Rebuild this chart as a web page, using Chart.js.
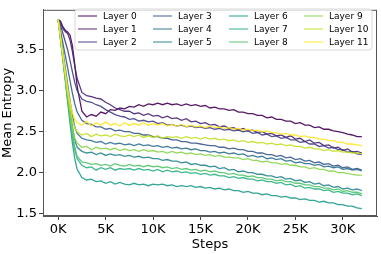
<!DOCTYPE html>
<html><head><meta charset="utf-8">
<script src="https://cdn.jsdelivr.net/npm/chart.js@4"></script>
<style>html,body{margin:0;padding:0;background:#fff}#wrap{width:381px;height:254px}</style>
</head><body><div id="wrap"><canvas id="c" width="381" height="254"></canvas></div>
<script>
const steps = [0,250,500,750,1000,1250,1500,1750,2000,
  2500,3000,3500,4000,4500,5000,5500,6000,6500,7000,
  7500,8000,8500,9000,9500,10000,10500,11000,11500,12000,
  12500,13000,13500,14000,14500,15000,15500,16000,16500,17000,
  17500,18000,18500,19000,19500,20000,20500,21000,21500,22000,
  22500,23000,23500,24000,24500,25000,25500,26000,26500,27000,
  27500,28000,28500,29000,29500,30000,30500,31000,31500,32000];
const layerNames = ["Layer 0","Layer 1","Layer 2","Layer 3","Layer 4","Layer 5","Layer 6","Layer 7","Layer 8","Layer 9","Layer 10","Layer 11"];
const layerColors = ["#440154","#482173","#433E85","#38598C","#2D708E","#25858E","#1E9B8A","#2BB07F","#51C56A","#85D54A","#C2DF23","#FDE725"];
const layer0 = [3.87,3.85,3.78,3.74,3.72,3.68,3.55,3.32,3.05,
  2.75,2.68,2.71,2.69,2.74,2.72,2.77,2.76,2.79,2.78,
  2.81,2.8,2.83,2.81,2.84,2.83,2.85,2.83,2.85,2.83,
  2.84,2.82,2.84,2.82,2.83,2.81,2.82,2.79,2.8,2.78,
  2.78,2.76,2.77,2.74,2.74,2.72,2.72,2.7,2.7,2.67,
  2.68,2.65,2.65,2.63,2.63,2.6,2.61,2.58,2.58,2.55,
  2.56,2.53,2.53,2.51,2.5,2.49,2.47,2.46,2.44,2.44];
const layer1 = [3.87,3.83,3.76,3.72,3.7,3.62,3.48,3.3,3.15,
  2.98,2.94,2.93,2.91,2.9,2.86,2.83,2.79,2.77,2.75,
  2.75,2.72,2.73,2.7,2.72,2.69,2.7,2.67,2.69,2.66,
  2.67,2.64,2.66,2.62,2.63,2.6,2.61,2.58,2.59,2.56,
  2.57,2.54,2.55,2.52,2.54,2.51,2.52,2.49,2.5,2.47,
  2.48,2.45,2.46,2.43,2.45,2.41,2.42,2.38,2.4,2.36,
  2.37,2.33,2.34,2.3,2.31,2.27,2.29,2.25,2.26,2.24];
const layer2 = [3.87,3.8,3.7,3.6,3.5,3.37,3.23,3.1,3.0,
  2.9,2.87,2.86,2.83,2.81,2.77,2.74,2.71,2.69,2.68,
  2.65,2.66,2.63,2.64,2.62,2.63,2.6,2.61,2.58,2.59,
  2.57,2.58,2.56,2.57,2.55,2.56,2.54,2.55,2.53,2.54,
  2.52,2.53,2.51,2.52,2.5,2.51,2.48,2.49,2.46,2.47,
  2.44,2.45,2.42,2.43,2.4,2.4,2.37,2.38,2.35,2.35,
  2.32,2.33,2.3,2.31,2.28,2.28,2.25,2.26,2.23,2.22];
const layer3 = [3.87,3.73,3.58,3.43,3.28,3.12,2.97,2.84,2.74,
  2.64,2.6,2.59,2.56,2.56,2.53,2.54,2.51,2.52,2.5,
  2.5,2.48,2.48,2.46,2.46,2.44,2.44,2.42,2.42,2.4,
  2.4,2.38,2.38,2.36,2.36,2.35,2.34,2.33,2.33,2.31,
  2.31,2.29,2.3,2.28,2.28,2.26,2.26,2.24,2.24,2.22,
  2.22,2.2,2.21,2.18,2.19,2.16,2.17,2.14,2.15,2.12,
  2.13,2.1,2.11,2.08,2.09,2.06,2.07,2.04,2.05,2.03];
const layer4 = [3.87,3.68,3.48,3.28,3.08,2.88,2.7,2.56,2.48,
  2.42,2.4,2.39,2.37,2.38,2.35,2.37,2.35,2.36,2.34,
  2.35,2.33,2.35,2.33,2.34,2.32,2.33,2.31,2.32,2.3,
  2.31,2.29,2.3,2.28,2.29,2.27,2.27,2.25,2.26,2.24,
  2.25,2.23,2.24,2.22,2.23,2.2,2.21,2.19,2.2,2.17,
  2.18,2.16,2.17,2.14,2.15,2.12,2.13,2.11,2.11,2.09,
  2.1,2.07,2.08,2.06,2.07,2.04,2.05,2.03,2.04,2.02];
const layer5 = [3.87,3.65,3.42,3.2,2.98,2.76,2.56,2.4,2.31,
  2.26,2.24,2.25,2.22,2.24,2.21,2.23,2.21,2.22,2.2,
  2.21,2.19,2.2,2.18,2.19,2.17,2.17,2.15,2.16,2.14,
  2.14,2.12,2.13,2.1,2.11,2.09,2.09,2.07,2.08,2.05,
  2.06,2.03,2.04,2.01,2.02,2.0,2.0,1.98,1.98,1.96,
  1.96,1.94,1.95,1.92,1.93,1.9,1.91,1.88,1.89,1.86,
  1.87,1.84,1.85,1.82,1.83,1.8,1.81,1.79,1.8,1.78];
const layer6 = [3.87,3.62,3.37,3.12,2.86,2.6,2.36,2.17,2.04,
  1.94,1.91,1.92,1.89,1.9,1.87,1.89,1.86,1.88,1.86,
  1.85,1.87,1.85,1.86,1.84,1.86,1.85,1.86,1.84,1.85,
  1.83,1.84,1.83,1.84,1.82,1.83,1.81,1.82,1.8,1.81,
  1.79,1.8,1.78,1.78,1.76,1.77,1.75,1.75,1.73,1.74,
  1.72,1.72,1.7,1.71,1.69,1.69,1.67,1.68,1.66,1.66,
  1.64,1.65,1.63,1.63,1.61,1.61,1.59,1.59,1.57,1.56];
const layer7 = [3.87,3.63,3.39,3.15,2.9,2.67,2.45,2.28,2.17,
  2.09,2.06,2.07,2.03,2.06,2.04,2.06,2.03,2.05,2.04,
  2.05,2.03,2.05,2.03,2.04,2.02,2.04,2.01,2.03,2.01,
  2.02,2.0,2.01,1.99,2.0,1.98,1.99,1.97,1.98,1.96,
  1.96,1.94,1.95,1.93,1.94,1.92,1.92,1.9,1.91,1.89,
  1.89,1.87,1.88,1.85,1.86,1.83,1.84,1.81,1.82,1.8,
  1.8,1.78,1.79,1.76,1.77,1.75,1.75,1.73,1.74,1.72];
const layer8 = [3.87,3.63,3.39,3.15,2.91,2.68,2.47,2.31,2.2,
  2.13,2.12,2.1,2.11,2.09,2.1,2.08,2.11,2.09,2.08,
  2.1,2.08,2.09,2.07,2.09,2.07,2.08,2.06,2.07,2.05,
  2.06,2.04,2.05,2.03,2.04,2.02,2.03,2.01,2.02,2.0,
  2.0,1.98,1.99,1.97,1.97,1.95,1.96,1.94,1.94,1.92,
  1.92,1.9,1.91,1.89,1.89,1.87,1.87,1.85,1.85,1.83,
  1.83,1.81,1.81,1.79,1.8,1.77,1.78,1.76,1.76,1.74];
const layer9 = [3.87,3.64,3.4,3.17,2.94,2.72,2.54,2.42,2.36,
  2.31,2.32,2.28,2.31,2.29,2.3,2.28,2.3,2.27,2.29,
  2.27,2.28,2.26,2.28,2.26,2.27,2.25,2.26,2.24,2.26,
  2.24,2.25,2.23,2.24,2.22,2.23,2.21,2.22,2.2,2.21,
  2.19,2.19,2.18,2.18,2.16,2.17,2.15,2.15,2.13,2.14,
  2.12,2.12,2.1,2.11,2.09,2.09,2.07,2.07,2.05,2.06,
  2.04,2.04,2.02,2.02,2.0,2.0,1.99,1.98,1.97,1.97];
const layer10 = [3.87,3.65,3.42,3.2,2.98,2.8,2.64,2.55,2.5,
  2.46,2.48,2.44,2.47,2.45,2.46,2.44,2.47,2.45,2.44,
  2.46,2.44,2.46,2.43,2.45,2.43,2.45,2.42,2.44,2.43,
  2.44,2.42,2.44,2.42,2.43,2.41,2.43,2.41,2.42,2.4,
  2.41,2.39,2.4,2.38,2.39,2.37,2.38,2.36,2.37,2.35,
  2.36,2.34,2.35,2.33,2.34,2.32,2.32,2.3,2.31,2.29,
  2.29,2.27,2.28,2.26,2.27,2.25,2.25,2.24,2.24,2.23];
const layer11 = [3.87,3.66,3.44,3.23,3.03,2.86,2.73,2.65,2.61,
  2.58,2.63,2.57,2.61,2.58,2.62,2.58,2.6,2.57,2.61,
  2.58,2.6,2.58,2.61,2.58,2.6,2.58,2.6,2.57,2.59,
  2.57,2.59,2.56,2.58,2.56,2.57,2.55,2.57,2.55,2.56,
  2.54,2.55,2.53,2.54,2.52,2.53,2.51,2.52,2.5,2.51,
  2.49,2.49,2.47,2.48,2.46,2.46,2.44,2.45,2.43,2.43,
  2.41,2.41,2.39,2.39,2.37,2.37,2.35,2.35,2.34,2.33];
const layerValues = [layer0,layer1,layer2,layer3,layer4,layer5,layer6,layer7,layer8,layer9,layer10,layer11];
const xTicks = [0,5000,10000,15000,20000,25000,30000];
const yTicks = [1.5,2.0,2.5,3.0,3.5];

const FONT = "'DejaVu Sans', sans-serif";

function hexA(h,a){const r=parseInt(h.slice(1,3),16),g=parseInt(h.slice(3,5),16),b=parseInt(h.slice(5,7),16);return `rgba(${r},${g},${b},${a})`;}

const datasets = layerValues.map((vals,i)=>({
  label: layerNames[i],
  data: steps.map((s,j)=>({x:s,y:vals[j]})),
  borderColor: hexA(layerColors[i],0.9),
  borderWidth: 1.3,
  pointRadius: 0,
  tension: 0,
  fill: false,
  order: 11 - i
}));

const framePlugin = {
  id:'frame',
  afterDraw(chart){
    const {ctx, chartArea:a} = chart;
    ctx.save();
    ctx.strokeStyle = '#555';
    ctx.lineWidth = 1;
    ctx.strokeRect(a.left+0.5, a.top+0.5, a.right-a.left-1, a.bottom-a.top-1);
    const bx=75, by=9, bw=297, bh=41, r=3;
    ctx.beginPath();
    ctx.moveTo(bx+r,by);ctx.lineTo(bx+bw-r,by);ctx.quadraticCurveTo(bx+bw,by,bx+bw,by+r);
    ctx.lineTo(bx+bw,by+bh-r);ctx.quadraticCurveTo(bx+bw,by+bh,bx+bw-r,by+bh);
    ctx.lineTo(bx+r,by+bh);ctx.quadraticCurveTo(bx,by+bh,bx,by+bh-r);
    ctx.lineTo(bx,by+r);ctx.quadraticCurveTo(bx,by,bx+r,by);ctx.closePath();
    ctx.fillStyle='rgba(255,255,255,0.8)';ctx.fill();
    ctx.strokeStyle='#d8d8d8';ctx.lineWidth=1;ctx.stroke();
    const colX=[78,153,229,304], rowY=[16,29,42];
    ctx.font = "9px "+FONT;
    ctx.textBaseline='middle';
    chart.data.datasets.forEach((d,i)=>{
      const c=Math.floor(i/3), rr=i%3;
      const x=colX[c], y=rowY[rr];
      ctx.strokeStyle=hexA(layerColors[i],0.75);ctx.lineWidth=1.3;
      ctx.beginPath();ctx.moveTo(x,y);ctx.lineTo(x+19,y);ctx.stroke();
      ctx.fillStyle='#000';
      ctx.fillText(d.label,x+25,y+0.5);
    });
    ctx.restore();
  }
};

new Chart(document.getElementById('c'),{
  type:'line',
  data:{datasets},
  options:{
    responsive:false,
    animation:false,
    layout:{padding:{top:4,right:4,left:0,bottom:0}},
    plugins:{legend:{display:false},tooltip:{enabled:false}},
    scales:{
      x:{
        type:'linear', min:-1600, max:33600,
        afterBuildTicks(s){s.ticks = xTicks.map(v=>({value:v}));},
        afterFit(s){s.height=38;},
        ticks:{color:'#000',font:{family:FONT,size:13},padding:2,callback:v=>(v/1000)+'K',maxRotation:0,autoSkip:false},
        grid:{display:true,drawOnChartArea:false,drawTicks:true,tickLength:4,color:'#444'},
        border:{display:true,color:'#555'},
        title:{display:true,text:'Steps',color:'#000',font:{family:FONT,size:13},padding:{top:0,bottom:2}}
      },
      y:{
        type:'linear', min:1.47, max:3.99,
        afterBuildTicks(s){s.ticks = yTicks.map(v=>({value:v}));},
        afterFit(s){s.width=43;},
        ticks:{color:'#000',font:{family:FONT,size:13},padding:2,callback:v=>v.toFixed(1),autoSkip:false},
        grid:{display:true,drawOnChartArea:false,drawTicks:true,tickLength:4,color:'#444'},
        border:{display:true,color:'#555'},
        title:{display:true,text:'Mean Entropy',color:'#000',font:{family:FONT,size:13},padding:{top:0,bottom:0}}
      }
    }
  },
  plugins:[framePlugin]
});
</script></body></html>
